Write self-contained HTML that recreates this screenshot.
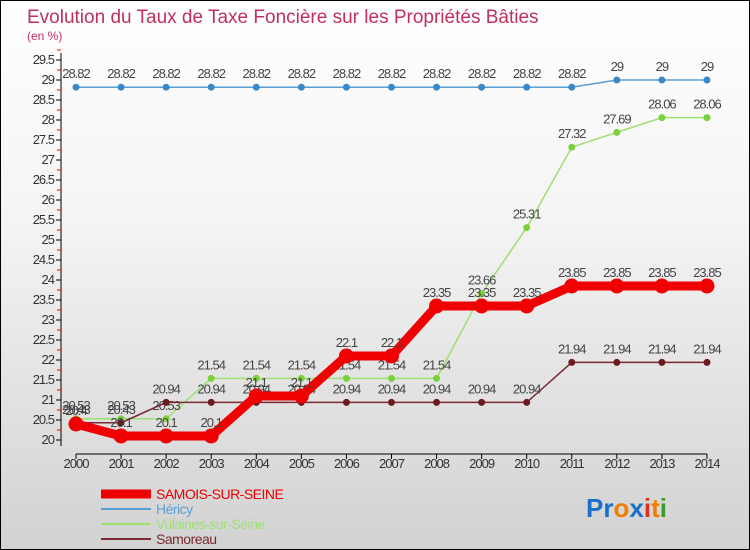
<!DOCTYPE html>
<html><head><meta charset="utf-8"><style>
body{margin:0}
#c{width:748px;height:548px;border:1px solid #000;background:linear-gradient(#fff 0%,#f4f4f4 40%,#d2d2d2 100%);position:relative;overflow:hidden;font-family:"Liberation Sans",sans-serif}
</style></head><body>
<div id="c">
<svg id="s" width="748" height="548" xmlns="http://www.w3.org/2000/svg">
<text x="26" y="22" font-size="19" fill="#c0305a">Evolution du Taux de Taxe Foncière sur les Propriétés Bâties</text>
<text x="26" y="39" font-size="12" fill="#c0305a">(en %)</text>
<g id="axes"></g><g id="series"></g>
<text x="585" y="516" font-size="26" font-weight="bold"><tspan fill="#1a6fc9">Pr</tspan><tspan fill="#f07d00">o</tspan><tspan fill="#1a6fc9">x</tspan><tspan fill="#e0301e">i</tspan><tspan fill="#f07d00">t</tspan><tspan fill="#3a9a2a">i</tspan></text>
</svg></div>
<script>
const years=[2000,2001,2002,2003,2004,2005,2006,2007,2008,2009,2010,2011,2012,2013,2014];
const yTicks=[20,20.5,21,21.5,22,22.5,23,23.5,24,24.5,25,25.5,26,26.5,27,27.5,28,28.5,29,29.5];
const samois=[20.4,20.1,20.1,20.1,21.1,21.1,22.1,22.1,23.35,23.35,23.35,23.85,23.85,23.85,23.85];
const hericy=[28.82,28.82,28.82,28.82,28.82,28.82,28.82,28.82,28.82,28.82,28.82,28.82,29,29,29];
const vulaines=[20.53,20.53,20.53,21.54,21.54,21.54,21.54,21.54,21.54,23.66,25.31,27.32,27.69,28.06,28.06];
const samoreau=[20.43,20.43,20.94,20.94,20.94,20.94,20.94,20.94,20.94,20.94,20.94,21.94,21.94,21.94,21.94];
const NS="http://www.w3.org/2000/svg";
const X=i=>75+i*45.07, Y=v=>439-(v-20)*40;
function mk(t,a,p){const e=document.createElementNS(NS,t);for(const k in a)e.setAttribute(k,a[k]);p.appendChild(e);return e;}
const ax=document.getElementById('axes'), sg=document.getElementById('series');
let l=mk('line',{x1:60,y1:52,x2:60,y2:445,stroke:'#000'},ax);


yTicks.forEach(v=>{mk('line',{x1:55,y1:Y(v),x2:60,y2:Y(v),stroke:'#000'},ax);
 mk('line',{x1:56,y1:Y(v)-10,x2:60,y2:Y(v)-10,stroke:'#e00'},ax);
 const t=mk('text',{x:53,y:Y(v)+4,'font-size':13,fill:'#333','text-anchor':'end','letter-spacing':'-1'},ax);t.textContent=v;
 
 });
l=mk('line',{x1:X(0),y1:453,x2:X(14),y2:453,stroke:'#000'},ax);


years.forEach((y,i)=>{mk('line',{x1:X(i),y1:453,x2:X(i),y2:458,stroke:'#000'},ax);
 const t=mk('text',{x:X(i),y:467,'font-size':13,fill:'#333','text-anchor':'middle','letter-spacing':'-1'},ax);t.textContent=y;
 
 });
function draw(data,color,w,r,name,pcol){
 const g=mk('g',{},sg);
 
 
 mk('polyline',{points:data.map((v,i)=>X(i)+','+Y(v)).join(' '),fill:'none',stroke:color,'stroke-width':w},g);
 data.forEach((v,i)=>{const c=mk('circle',{cx:X(i),cy:Y(v),r:r,fill:pcol},g);
  
  
  const t=mk('text',{x:X(i),y:Y(v)-9,'font-size':13,fill:'#444','text-anchor':'middle','letter-spacing':'-1'},g);t.textContent=v;
  
  });
}
draw(hericy,'#5a9fd4',1.5,3.5,'hericy','#3a88c8');
draw(vulaines,'#9ee070',1.5,3.5,'vulaines','#7cd03e');
draw(samoreau,'#7a2a30',1.5,3.5,'samoreau','#6a1a20');
draw(samois,'#f00000',9,7.5,'samois','#f00000');
const leg=[['SAMOIS-SUR-SEINE','#f00000',9],['Héricy','#5a9fd4',2],['Vulaines-sur-Seine','#9ee070',2],['Samoreau','#7a2a30',2]];
leg.forEach((e,i)=>{const y=493+i*15;
 const g=mk('g',{},sg);
 
 
 mk('line',{x1:100,y1:y,x2:150,y2:y,stroke:e[1],'stroke-width':e[2]},g);
 const t=mk('text',{x:155,y:y+5,'font-size':14,fill:e[1],'letter-spacing':'-0.5'},g);t.textContent=e[0];});
</script></body></html>
